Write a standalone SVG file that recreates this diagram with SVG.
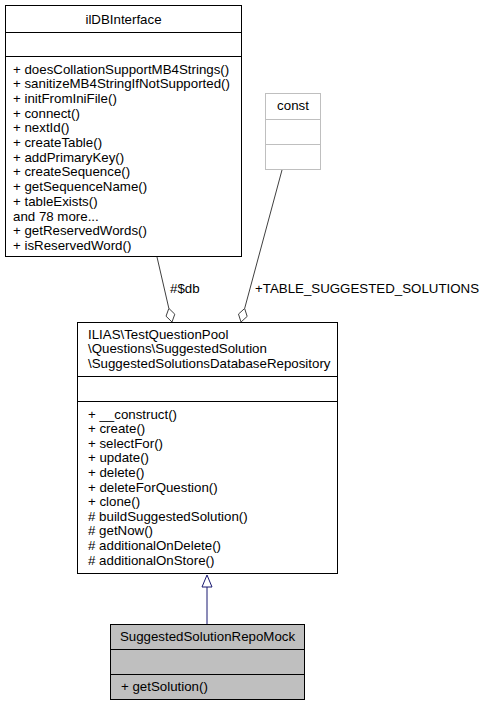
<svg xmlns="http://www.w3.org/2000/svg" width="485" height="707" viewBox="0 0 485 707">
<style>
text{font-family:"Liberation Sans",Arial,Helvetica,sans-serif;font-size:13.3px;fill:#000}
.c{text-anchor:middle}
.box{fill:#fff;stroke:#000;stroke-width:1}
.sep{stroke:#000;stroke-width:1}
.gbox{fill:#fff;stroke:#bfbfbf;stroke-width:1}
.gsep{stroke:#bfbfbf;stroke-width:1}
.cur{fill:#bfbfbf;stroke:#000;stroke-width:1}
.agg{stroke:#404040;stroke-width:1;fill:none}
.dia{stroke:#404040;stroke-width:1;fill:#fff}
.inh{stroke:#191970;stroke-width:1;fill:none}
.tri{stroke:#191970;stroke-width:1;fill:#fff}
</style>
<rect width="485" height="707" fill="#fff"/>
<g id="connectors">
<line class="agg" x1="157" y1="257" x2="168.85" y2="308.36"/>
<polygon class="dia" points="172,322 174.8,314.2 168.85,308.36 166.04,316.19"/>
<text x="170" y="293">#$db</text>
<line class="agg" x1="282" y1="170" x2="244.65" y2="308.48"/>
<polygon class="dia" points="241,322 247.17,316.41 244.65,308.48 238.48,314.07"/>
<text x="255" y="293">+TABLE_SUGGESTED_SOLUTIONS</text>
<line class="inh" x1="207" y1="624" x2="207" y2="587"/>
<polygon class="tri" points="207,575 212,587 202,587"/>
</g>
<g id="ilDBInterface">
<rect class="box" x="5.5" y="5.5" width="236" height="251"/>
<line class="sep" x1="5.5" y1="32.5" x2="241.5" y2="32.5"/>
<line class="sep" x1="5.5" y1="56.5" x2="241.5" y2="56.5"/>
<text class="c" x="123.5" y="24">ilDBInterface</text>
<text x="13" y="73.5">+ doesCollationSupportMB4Strings()</text>
<text x="13" y="88.2">+ sanitizeMB4StringIfNotSupported()</text>
<text x="13" y="102.9">+ initFromIniFile()</text>
<text x="13" y="117.6">+ connect()</text>
<text x="13" y="132.3">+ nextId()</text>
<text x="13" y="147">+ createTable()</text>
<text x="13" y="161.7">+ addPrimaryKey()</text>
<text x="13" y="176.4">+ createSequence()</text>
<text x="13" y="191.1">+ getSequenceName()</text>
<text x="13" y="205.8">+ tableExists()</text>
<text x="13" y="220.5">and 78 more...</text>
<text x="13" y="235.2">+ getReservedWords()</text>
<text x="13" y="249.9">+ isReservedWord()</text>
</g>
<g id="const">
<rect class="gbox" x="265.5" y="93.5" width="55" height="76"/>
<line class="gsep" x1="265.5" y1="119.5" x2="320.5" y2="119.5"/>
<line class="gsep" x1="265.5" y1="144.5" x2="320.5" y2="144.5"/>
<text class="c" x="293" y="110">const</text>
</g>
<g id="SuggestedSolutionsDatabaseRepository">
<rect class="box" x="77.5" y="322.5" width="260" height="251"/>
<line class="sep" x1="77.5" y1="376.5" x2="337.5" y2="376.5"/>
<line class="sep" x1="77.5" y1="401.5" x2="337.5" y2="401.5"/>
<text x="88" y="338.5">ILIAS\TestQuestionPool</text>
<text x="88" y="353">\Questions\SuggestedSolution</text>
<text x="88" y="367.5">\SuggestedSolutionsDatabaseRepository</text>
<text x="88" y="418.5">+ __construct()</text>
<text x="88" y="433.1">+ create()</text>
<text x="88" y="447.7">+ selectFor()</text>
<text x="88" y="462.3">+ update()</text>
<text x="88" y="476.9">+ delete()</text>
<text x="88" y="491.5">+ deleteForQuestion()</text>
<text x="88" y="506.1">+ clone()</text>
<text x="88" y="520.7"># buildSuggestedSolution()</text>
<text x="88" y="535.3"># getNow()</text>
<text x="88" y="549.9"># additionalOnDelete()</text>
<text x="88" y="564.5"># additionalOnStore()</text>
</g>
<g id="SuggestedSolutionRepoMock">
<rect class="cur" x="110.5" y="624.5" width="194" height="75"/>
<line class="sep" x1="110.5" y1="649.5" x2="304.5" y2="649.5"/>
<line class="sep" x1="110.5" y1="674.5" x2="304.5" y2="674.5"/>
<text class="c" x="207.5" y="641">SuggestedSolutionRepoMock</text>
<text x="121" y="691">+ getSolution()</text>
</g>
</svg>
